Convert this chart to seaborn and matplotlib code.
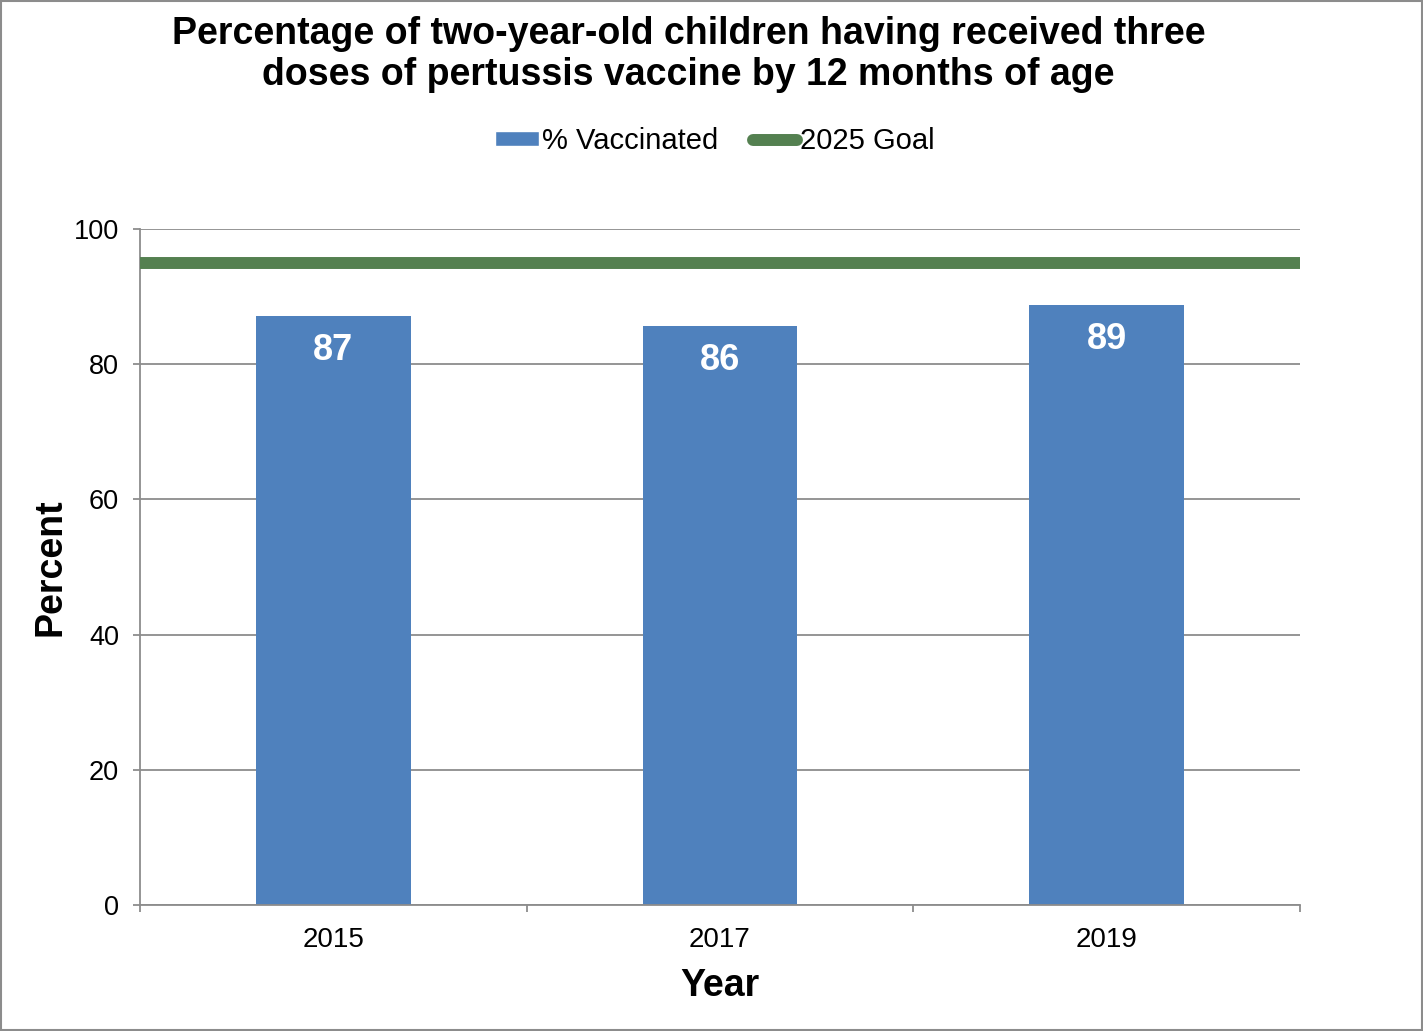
import matplotlib
matplotlib.use("Agg")
import matplotlib.pyplot as plt
import seaborn as sns
import pandas as pd
from matplotlib.patches import Patch, Rectangle
from matplotlib.lines import Line2D

years = ["2015", "2017", "2019"]
vaccinated = [87.1, 85.6, 88.8]
labels = ["87", "86", "89"]
goal = 95

sns.set_theme(style="white")
plt.rcParams['font.family'] = ['Liberation Sans', 'DejaVu Sans']
plt.rcParams['text.color'] = 'black'
plt.rcParams['axes.labelcolor'] = 'black'
plt.rcParams['xtick.color'] = 'black'
plt.rcParams['ytick.color'] = 'black'

df = pd.DataFrame({"Year": years, "Percent": vaccinated})

fig = plt.figure(figsize=(14.23, 10.31), dpi=100)
ax = fig.add_axes([140/1423, 1 - 905/1031, 1160/1423, 676/1031])

sns.barplot(data=df, x="Year", y="Percent", color="#4f81bd", width=0.4,
            saturation=1, ax=ax, linewidth=0, edgecolor="none")
ax.axhline(goal, color="#548050", lw=8.6, zorder=3)

for i, (v, l) in enumerate(zip(vaccinated, labels)):
    ax.text(i, v - 2.5, l, ha="center", va="top", color="white",
            fontsize=26, fontweight="bold")

ax.set_xlim(-0.5, 2.5)
ax.set_ylim(0, 100)
ax.set_yticks(range(0, 101, 20))
ax.yaxis.grid(True, color="#8c8c8c", lw=1.3)
ax.set_axisbelow(True)
ax.tick_params(axis="y", length=5, color="#8c8c8c", labelcolor="black", width=1.3, labelsize=19.5, pad=10, left=True)
ax.tick_params(axis="x", which="major", length=0, labelsize=20, labelcolor="black", pad=16)
ax.set_xticks([-0.5, 0.5, 1.5, 2.5], minor=True)
ax.tick_params(axis="x", which="minor", length=5, color="#8c8c8c", width=1.3, bottom=True)
for s in ["top", "right"]:
    ax.spines[s].set_visible(False)
for s in ["left", "bottom"]:
    ax.spines[s].set_color("#8c8c8c")
    ax.spines[s].set_linewidth(1.3)

ax.set_xlabel("Year", fontsize=27, fontweight="bold", labelpad=11)
ax.set_ylabel("Percent", fontsize=27, fontweight="bold", labelpad=4)

fig.text(0.484, 1 - 16/1031, "Percentage of two-year-old children having received three\ndoses of pertussis vaccine by 12 months of age",
         ha="center", va="top", fontsize=27, fontweight="bold", linespacing=1.17)

handles = [Patch(facecolor="#4f81bd", label="% Vaccinated"),
           Line2D([0], [0], color="#548050", lw=8.6, solid_capstyle="round", label="2025 Goal")]
fig.legend(handles=handles, loc="center", bbox_to_anchor=(0.5025, 1 - 141/1031), ncol=2,
           frameon=False, fontsize=21, handlelength=1.5, handletextpad=0.1, columnspacing=1.2,
           handleheight=0.45)

fig.add_artist(Rectangle((0.001, 0.001), 0.998, 0.998, transform=fig.transFigure,
                         fill=False, edgecolor="#8c8c8c", lw=1.5))

fig.savefig("out.png", dpi=100)
